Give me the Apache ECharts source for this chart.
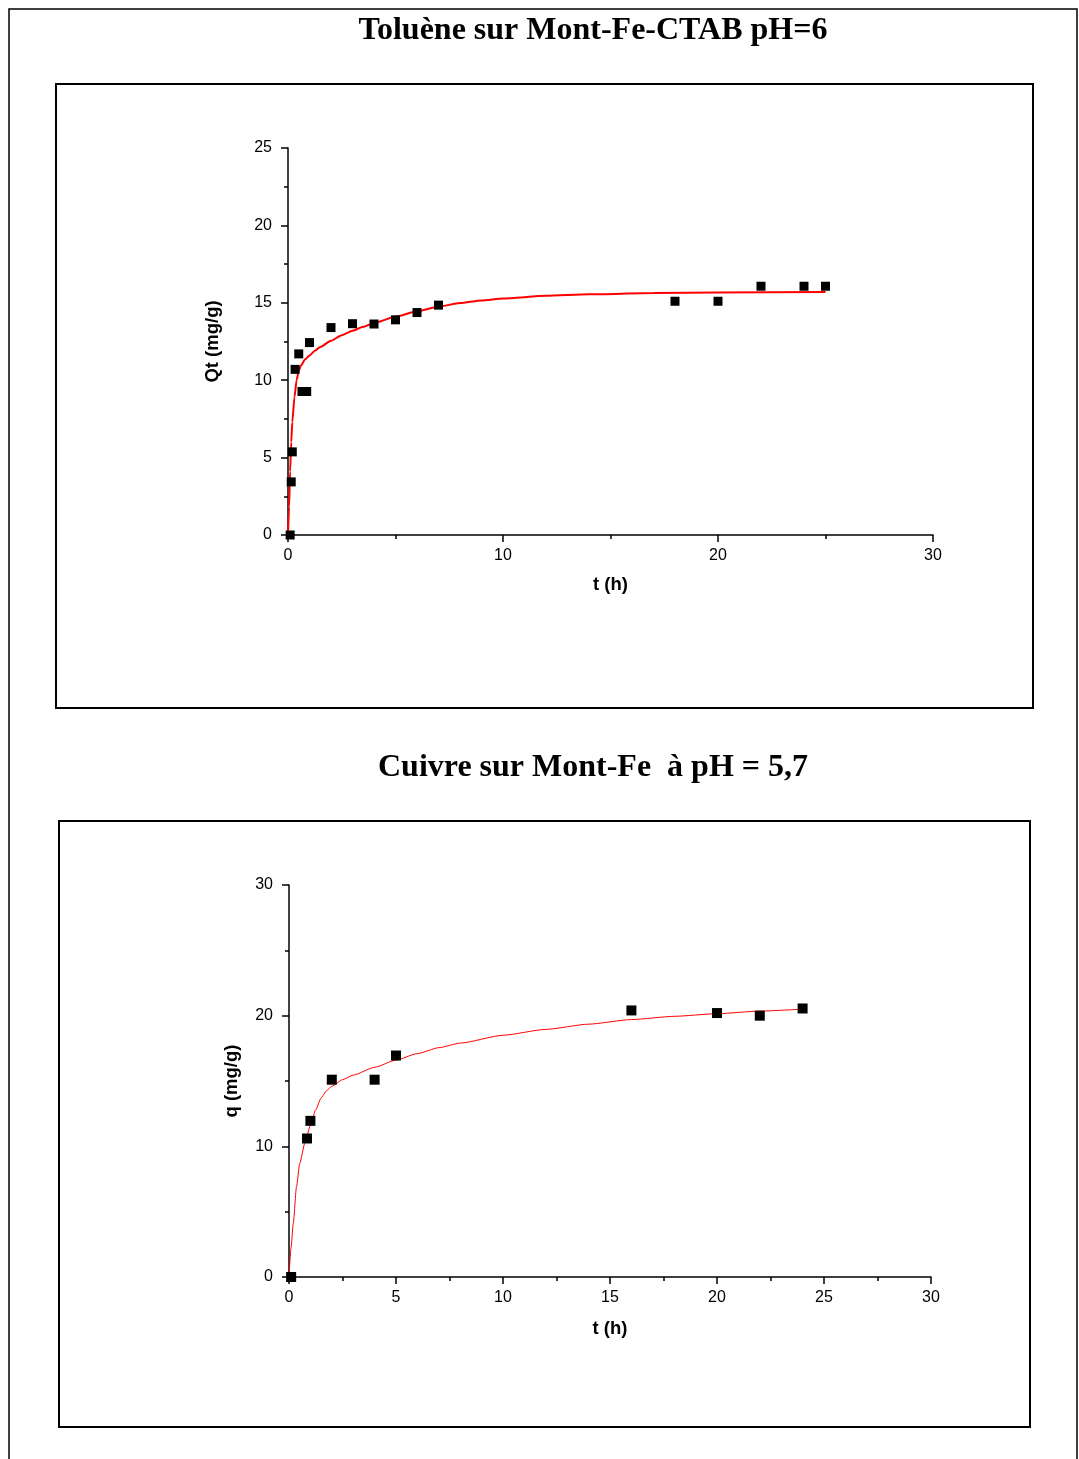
<!DOCTYPE html>
<html>
<head>
<meta charset="utf-8">
<script src="https://cdn.jsdelivr.net/npm/echarts@6/dist/echarts.min.js"></script>
<style>
  html, body { margin: 0; padding: 0; background: #fff; }
  #chart { width: 1079px; height: 1459px; }
</style>
</head>
<body>
<div id="chart"></div>
<script>
// Kinetics of toluene on Mont-Fe-CTAB (pH 6): measured points and fitted curve
const tolueneTime = [0.1, 0.15, 0.2, 0.33, 0.5, 0.65, 0.87, 1, 2, 3, 4, 5, 6, 7, 18, 20, 22, 24, 25];
const tolueneQt   = [0, 3.43, 5.37, 10.7, 11.7, 9.27, 9.27, 12.43, 13.4, 13.65, 13.63, 13.9, 14.37, 14.85, 15.1, 15.1, 16.07, 16.07, 16.07];
const tolueneFitTime = [0, 0.05, 0.1, 0.15, 0.2, 0.3, 0.4, 0.5, 0.6, 0.8, 1, 1.25, 1.5, 2, 2.5, 3, 3.5, 4, 5, 6, 7, 8, 9, 10, 12, 14, 17, 20, 25];
const tolueneFitQt   = [0, 1.8, 4.1, 6.0, 7.3, 8.9, 10.0, 10.6, 10.95, 11.35, 11.6, 11.9, 12.15, 12.55, 12.9, 13.2, 13.45, 13.7, 14.1, 14.45, 14.75, 14.98, 15.15, 15.28, 15.45, 15.55, 15.63, 15.67, 15.69];

// Kinetics of copper on Mont-Fe (pH 5,7)
const copperTime = [0.1, 0.84, 1, 2, 4, 5, 16, 20, 22, 24];
const copperQ    = [0, 10.6, 11.95, 15.1, 15.1, 16.95, 20.4, 20.2, 20.0, 20.55];
const copperFitTime = [0, 0.1, 0.2, 0.35, 0.5, 0.75, 1, 1.25, 1.5, 1.75, 2, 2.5, 3, 4, 5, 6, 7, 8, 10, 12, 14, 16, 18, 20, 22, 24];
const copperFitQ    = [0, 2.3, 4.1, 6.9, 8.7, 10.3, 11.6, 12.8, 13.7, 14.25, 14.6, 15.1, 15.45, 16.05, 16.6, 17.1, 17.55, 17.9, 18.5, 18.95, 19.35, 19.7, 19.95, 20.15, 20.35, 20.5];

// Axis ranges and tick spacing
const topXTicks = { min: 0, max: 30, interval: 10 };
const topYTicks = { min: 0, max: 25, interval: 5 };
const botXTicks = { min: 0, max: 30, interval: 5 };
const botYTicks = { min: 0, max: 30, interval: 10 };

const titleTop = 'Toluène sur Mont-Fe-CTAB pH=6';
const titleBottom = 'Cuivre sur Mont-Fe  à pH = 5,7';

const pair = (xs, ys) => xs.map((x, i) => [x, ys[i]]);

const labelFont = { color: '#000', fontFamily: 'Liberation Sans, Arial, sans-serif', fontSize: 16 };
const nameFont = { color: '#000', fontFamily: 'Liberation Sans, Arial, sans-serif', fontSize: 18.5, fontWeight: 'bold' };
const titleFont = 'bold 32px "Liberation Serif", "Times New Roman", serif';

function xAxisFor(gridIndex, ticks, nameGap) {
  return {
    type: 'value', gridIndex, min: ticks.min, max: ticks.max, interval: ticks.interval,
    name: 't (h)', nameLocation: 'middle', nameGap, nameTextStyle: nameFont,
    axisLine: { onZero: false, lineStyle: { color: '#000', width: 1.5 } },
    axisTick: { inside: false, length: 7, lineStyle: { color: '#000', width: 1.5 } },
    minorTick: { show: true, splitNumber: 2, length: 4, lineStyle: { color: '#000', width: 1.5 } },
    axisLabel: Object.assign({ margin: 13 }, labelFont),
    splitLine: { show: false }
  };
}
function yAxisFor(gridIndex, ticks, name, nameGap) {
  return {
    type: 'value', gridIndex, min: ticks.min, max: ticks.max, interval: ticks.interval,
    name, nameLocation: 'middle', nameGap, nameTextStyle: nameFont,
    axisLine: { show: true, onZero: false, lineStyle: { color: '#000', width: 1.5 } },
    axisTick: { show: true, inside: false, length: 7, lineStyle: { color: '#000', width: 1.5 } },
    minorTick: { show: true, splitNumber: 2, length: 4, lineStyle: { color: '#000', width: 1.5 } },
    axisLabel: Object.assign({ margin: 16 }, labelFont),
    splitLine: { show: false }
  };
}

const chart = echarts.init(document.getElementById('chart'), null, { renderer: 'canvas' });

const frameStyle = { stroke: '#000', lineWidth: 2, fill: null };

chart.setOption({
  backgroundColor: '#fff',
  animation: false,
  graphic: [
    // page border (open at the bottom)
    { type: 'polyline', shape: { points: [[9, 1459], [9, 9], [1077, 9], [1077, 1459]] },
      style: { stroke: '#000', lineWidth: 1.5, fill: null }, silent: true },
    { type: 'rect', shape: { x: 56, y: 84, width: 977, height: 624 }, style: frameStyle, silent: true },
    { type: 'rect', shape: { x: 59, y: 821, width: 971, height: 606 }, style: frameStyle, silent: true },
    { type: 'text', x: 593, y: 15, style: { text: titleTop, font: titleFont, fill: '#000', textAlign: 'center', textVerticalAlign: 'top' }, silent: true },
    { type: 'text', x: 593, y: 752, style: { text: titleBottom, font: titleFont, fill: '#000', textAlign: 'center', textVerticalAlign: 'top' }, silent: true }
  ],
  grid: [
    { left: 288, top: 148, width: 645, height: 387 },
    { left: 289, top: 885, width: 642, height: 392 }
  ],
  xAxis: [ xAxisFor(0, topXTicks, 40), xAxisFor(1, botXTicks, 42) ],
  yAxis: [ yAxisFor(0, topYTicks, 'Qt (mg/g)', 66), yAxisFor(1, botYTicks, 'q (mg/g)', 48) ],
  series: [
    { type: 'line', xAxisIndex: 0, yAxisIndex: 0, data: pair(tolueneFitTime, tolueneFitQt),
      smooth: 0.2, smoothMonotone: 'x', showSymbol: false, lineStyle: { color: '#ff0000', width: 2 }, z: 2 },
    { type: 'scatter', xAxisIndex: 0, yAxisIndex: 0, data: pair(tolueneTime, tolueneQt),
      symbol: 'rect', symbolSize: 9, itemStyle: { color: '#000', opacity: 1 }, z: 3 },
    { type: 'line', xAxisIndex: 1, yAxisIndex: 1, data: pair(copperFitTime, copperFitQ),
      smooth: 0.2, smoothMonotone: 'x', showSymbol: false, lineStyle: { color: '#ff0000', width: 1 }, z: 2 },
    { type: 'scatter', xAxisIndex: 1, yAxisIndex: 1, data: pair(copperTime, copperQ),
      symbol: 'rect', symbolSize: 10, itemStyle: { color: '#000', opacity: 1 }, z: 3 }
  ]
});
</script>
</body>
</html>
